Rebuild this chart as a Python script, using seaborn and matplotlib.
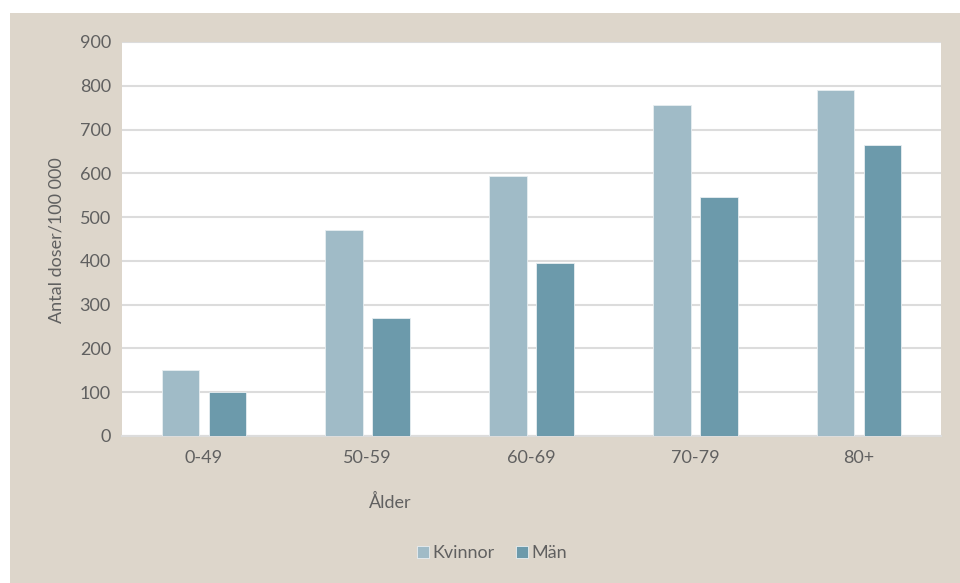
import matplotlib
matplotlib.use("Agg")
import matplotlib.pyplot as plt
import seaborn as sns
import pandas as pd
from matplotlib.patches import Rectangle

categories = ["0-49", "50-59", "60-69", "70-79", "80+"]
kvinnor = [150, 470, 595, 755, 790]
man = [100, 270, 395, 545, 665]
series_names = ["Kvinnor", "Män"]
colors = ["#A0BBC7", "#6C9AAB"]

df = pd.DataFrame({
    "Ålder": categories * 2,
    "value": kvinnor + man,
    "Kön": [series_names[0]] * len(categories) + [series_names[1]] * len(categories),
})

sns.set_theme(style="white")
plt.rcParams["font.family"] = ["Lato", "DejaVu Sans"]
text_color = "#606060"
fs = 13

fig = plt.figure(figsize=(9.6, 5.83), dpi=100)
fig.patch.set_facecolor("white")
fig.patches.append(Rectangle((10 / 960, 0), 950 / 960, 570 / 583,
                             transform=fig.transFigure, facecolor="#DDD6CB",
                             edgecolor="none", zorder=-10))

ax = fig.add_axes([122 / 960, 147 / 583, 819 / 960, 394 / 583])
ax.set_facecolor("white")

sns.barplot(data=df, x="Ålder", y="value", hue="Kön", palette=colors,
            saturation=1, width=0.573, gap=0.2, ax=ax, legend=True,
            edgecolor="#E8EEF1", linewidth=0.6, zorder=3)

ax.set_ylim(0, 900)
ax.set_yticks(range(0, 901, 100))
ax.yaxis.grid(True, color="#DCDCDC", linewidth=1.5, zorder=0)
ax.set_axisbelow(True)
for s in ["top", "right", "left"]:
    ax.spines[s].set_visible(False)
ax.spines["bottom"].set_color("#DCDCDC")
ax.spines["bottom"].set_linewidth(1.5)
ax.tick_params(axis="both", length=0, labelsize=fs, colors=text_color, pad=8)
ax.tick_params(axis="x", pad=10)

ax.set_ylabel("Antal doser/100 000", fontsize=fs, color=text_color)
ax.yaxis.set_label_coords(-0.070, 0.497)
ax.set_xlabel("Ålder", fontsize=fs, color=text_color)
ax.xaxis.set_label_coords(0.328, -0.147)

handles, labels = ax.get_legend_handles_labels()
ax.get_legend().remove()
leg = fig.legend(handles, labels, loc="center", bbox_to_anchor=(492 / 960, 1 - 553 / 583),
                 ncol=2, frameon=False, fontsize=fs, handlelength=0.65, handleheight=0.65,
                 handletextpad=0.2, columnspacing=1.2)
for t in leg.get_texts():
    t.set_color(text_color)

fig.savefig("out.png", dpi=100)
